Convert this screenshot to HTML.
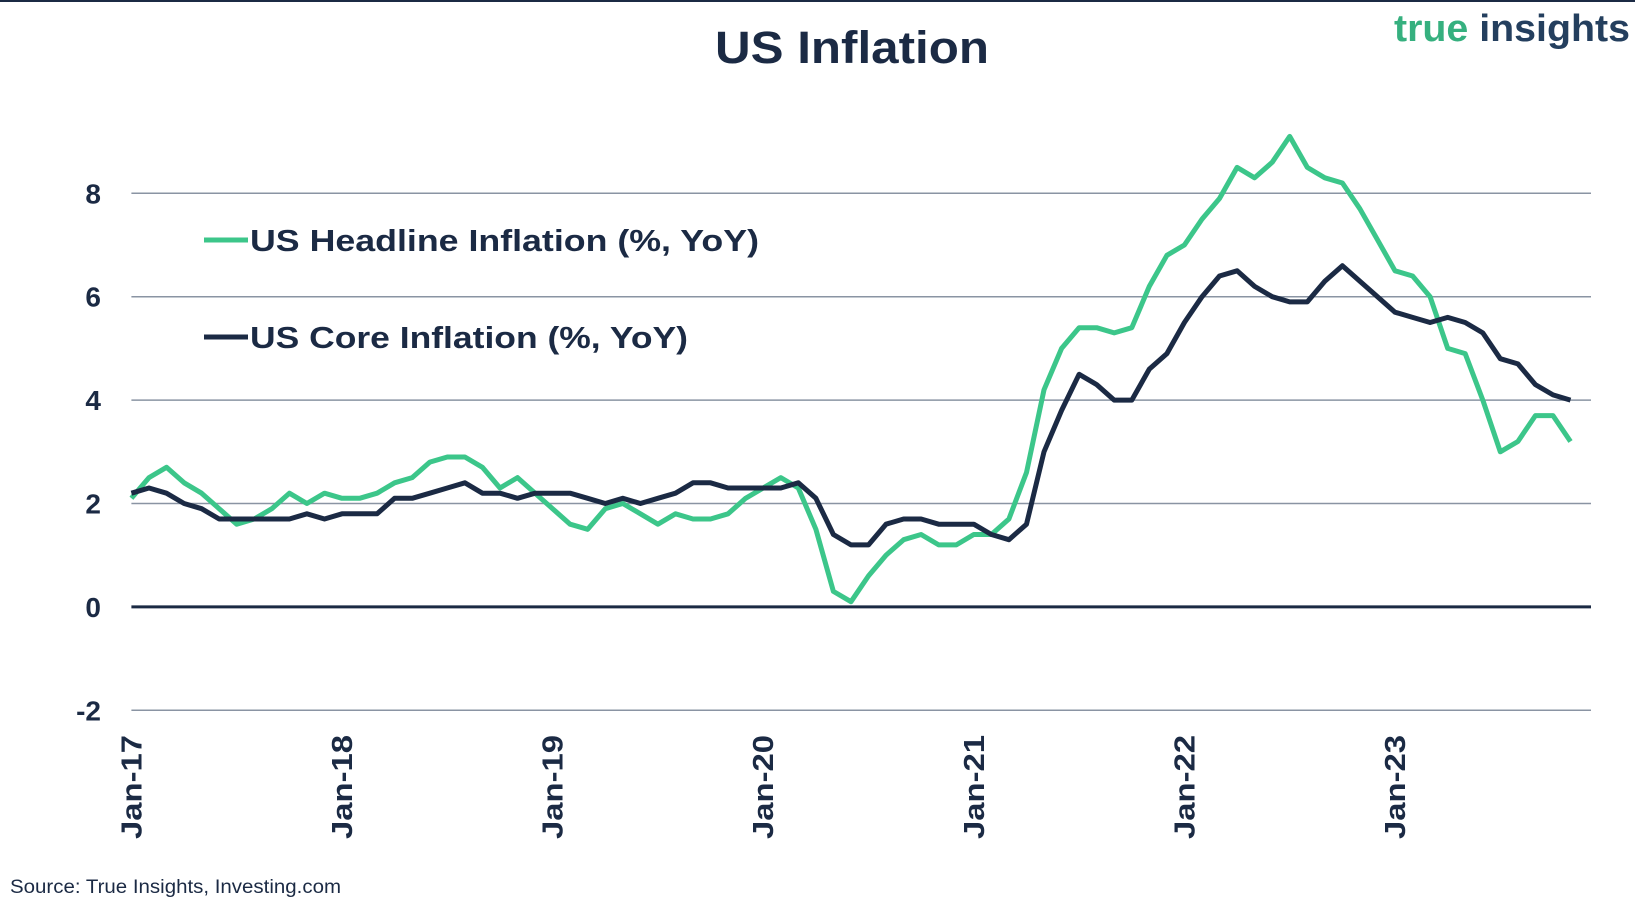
<!DOCTYPE html>
<html><head><meta charset="utf-8"><style>
body{margin:0;background:#fff;}
svg{display:block;font-family:"Liberation Sans",sans-serif;}
</style></head><body>
<svg width="1635" height="903" viewBox="0 0 1635 903">
<rect x="0" y="0" width="1635" height="2" fill="#1b2a44"/>
<text x="852" y="63" text-anchor="middle" font-size="45" font-weight="bold" fill="#1b2a44" textLength="274" lengthAdjust="spacingAndGlyphs">US Inflation</text>
<text x="1630" y="41" text-anchor="end" font-size="38" font-weight="bold" textLength="236" lengthAdjust="spacingAndGlyphs"><tspan fill="#36b07f">true</tspan><tspan fill="#243f5e"> insights</tspan></text>
<g id="grid"></g><g id="lines"></g>
<g>
<line x1="204" y1="240" x2="248" y2="240" stroke="#3cc68a" stroke-width="5"/>
<text x="250" y="251" font-size="31" font-weight="bold" fill="#1b2a44" textLength="509" lengthAdjust="spacingAndGlyphs">US Headline Inflation (%, YoY)</text>
<line x1="204" y1="337" x2="248" y2="337" stroke="#1b2a44" stroke-width="5"/>
<text x="250" y="348" font-size="31" font-weight="bold" fill="#1b2a44" textLength="438" lengthAdjust="spacingAndGlyphs">US Core Inflation (%, YoY)</text>
</g>
<text x="10" y="893" font-size="19" fill="#1b2a44" textLength="331" lengthAdjust="spacingAndGlyphs">Source: True Insights, Investing.com</text>
</svg>
<script>
const yTicks=[-2,0,2,4,6,8];
const xTickLabels=["Jan-17","Jan-18","Jan-19","Jan-20","Jan-21","Jan-22","Jan-23"];
const xTickIndex=[1,13,25,37,49,61,73];
const headline=[2.1,2.5,2.7,2.4,2.2,1.9,1.6,1.7,1.9,2.2,2.0,2.2,2.1,2.1,2.2,2.4,2.5,2.8,2.9,2.9,2.7,2.3,2.5,2.2,1.9,1.6,1.5,1.9,2.0,1.8,1.6,1.8,1.7,1.7,1.8,2.1,2.3,2.5,2.3,1.5,0.3,0.1,0.6,1.0,1.3,1.4,1.2,1.2,1.4,1.4,1.7,2.6,4.2,5.0,5.4,5.4,5.3,5.4,6.2,6.8,7.0,7.5,7.9,8.5,8.3,8.6,9.1,8.5,8.3,8.2,7.7,7.1,6.5,6.4,6.0,5.0,4.9,4.0,3.0,3.2,3.7,3.7,3.2];
const core=[2.2,2.3,2.2,2.0,1.9,1.7,1.7,1.7,1.7,1.7,1.8,1.7,1.8,1.8,1.8,2.1,2.1,2.2,2.3,2.4,2.2,2.2,2.1,2.2,2.2,2.2,2.1,2.0,2.1,2.0,2.1,2.2,2.4,2.4,2.3,2.3,2.3,2.3,2.4,2.1,1.4,1.2,1.2,1.6,1.7,1.7,1.6,1.6,1.6,1.4,1.3,1.6,3.0,3.8,4.5,4.3,4.0,4.0,4.6,4.9,5.5,6.0,6.4,6.5,6.2,6.0,5.9,5.9,6.3,6.6,6.3,6.0,5.7,5.6,5.5,5.6,5.5,5.3,4.8,4.7,4.3,4.1,4.0];
const NS="http://www.w3.org/2000/svg";
const X0=131.4, DX=17.55, Y0=606.9, DY=51.7, XR=1591;
function xs(i){return X0+(i-1)*DX;}
function ys(v){return Y0-v*DY;}
const grid=document.getElementById('grid');
yTicks.forEach(t=>{
  const l=document.createElementNS(NS,'line');
  l.setAttribute('x1',131.4);l.setAttribute('x2',XR);
  l.setAttribute('y1',ys(t));l.setAttribute('y2',ys(t));
  l.setAttribute('stroke',t===0?'#1b2a44':'#8a94a3');
  l.setAttribute('stroke-width',t===0?3:1.5);
  
  
  grid.appendChild(l);
  const tx=document.createElementNS(NS,'text');
  tx.setAttribute('x',101);tx.setAttribute('y',ys(t)+10);
  tx.setAttribute('text-anchor','end');tx.setAttribute('font-size','28');
  tx.setAttribute('font-weight','bold');tx.setAttribute('fill','#1b2a44');
  tx.textContent=t;
  
  
  grid.appendChild(tx);
});
xTickLabels.forEach((lab,k)=>{
  const px=xs(xTickIndex[k])+10;
  const tx=document.createElementNS(NS,'text');
  tx.setAttribute('transform','translate('+px+',735) rotate(-90)');
  tx.setAttribute('text-anchor','end');tx.setAttribute('font-size','29');
  tx.setAttribute('font-weight','bold');tx.setAttribute('fill','#1b2a44');
  tx.setAttribute('textLength','104');tx.setAttribute('lengthAdjust','spacingAndGlyphs');
  tx.textContent=lab;
  
  
  grid.appendChild(tx);
});
const lines=document.getElementById('lines');
function draw(arr,color,name){
  const p=document.createElementNS(NS,'polyline');
  p.setAttribute('points',arr.map((v,i)=>xs(i+1).toFixed(1)+','+ys(v).toFixed(1)).join(' '));
  p.setAttribute('fill','none');p.setAttribute('stroke',color);
  p.setAttribute('stroke-width','5');p.setAttribute('stroke-linejoin','round');
  
  
  lines.appendChild(p);
}
draw(headline,'#3cc68a','headline-inflation-line');
draw(core,'#1b2a44','core-inflation-line');
</script>
</body></html>
